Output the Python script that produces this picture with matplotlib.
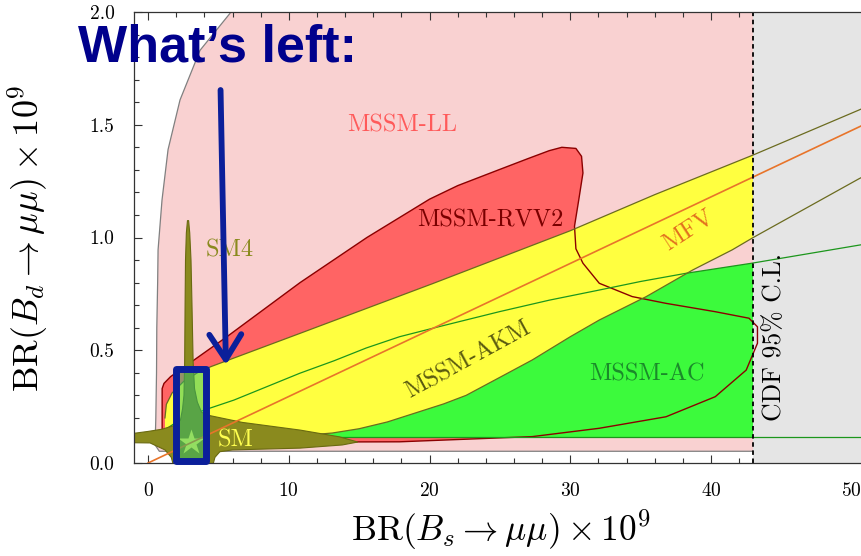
import matplotlib
matplotlib.use("Agg")
import matplotlib.pyplot as plt
from matplotlib.patches import Rectangle
from matplotlib.ticker import MultipleLocator, FormatStrFormatter

plt.rcParams['font.family'] = 'cmr10'
plt.rcParams['mathtext.fontset'] = 'cm'
plt.rcParams['axes.formatter.use_mathtext'] = True

# ---------------- data ----------------
# MSSM-LL region (pink)
ll_x = [6.4, 5.82, 3.69, 2.27, 1.42, 0.99, 0.71, 0.68, 0.62, 0.6, 0.55, 0.5, 0.8, 43.0, 43.0]
ll_y = [2.1, 1.994, 1.83, 1.61, 1.39, 1.166, 0.945, 0.80, 0.60, 0.40, 0.20, 0.08, 0.052, 0.052, 2.1]

# MSSM-RVV2 region (red)
rvv_x = [1.0, 1.0, 1.13, 1.6, 5.6, 10.8, 15.55, 20.0, 22.0, 24.7, 27.0, 28.5, 29.4, 30.4, 30.8, 30.9,
         30.6, 30.3, 30.4, 30.9, 32.06, 34.4, 36.8, 40.3, 42.7, 43.3, 43.3, 42.5, 40.3, 36.8,
         32.06, 27.3, 17.87, 5.0, 1.5, 1.1]
rvv_y = [0.14, 0.33, 0.353, 0.383, 0.56, 0.80, 1.0, 1.17, 1.23, 1.295, 1.35, 1.385, 1.40, 1.395, 1.36, 1.286,
         1.166, 1.05, 0.95, 0.886, 0.797, 0.738, 0.708, 0.671, 0.642, 0.604, 0.531, 0.412, 0.294, 0.205,
         0.154, 0.117, 0.094, 0.092, 0.092, 0.10]

# MSSM-AC region (green): upper boundary and bottom level
ac_top_x = [1.5, 2.5, 4.0, 6.1, 8.5, 10.78, 13.2, 15.5, 17.87, 20.7, 24.96, 28.5, 32.06, 35.0, 38.2,
            42.9, 50.6, 53.0]
ac_top_y = [0.16, 0.20, 0.235, 0.279, 0.34, 0.398, 0.453, 0.51, 0.56, 0.605, 0.671, 0.722, 0.767, 0.805,
            0.841, 0.886, 0.967, 0.99]
ac_bottom = 0.114

# MSSM-AKM region (yellow): upper and lower boundaries
akm_up_x = [1.2, 1.3, 1.7, 2.5, 3.5, 4.45, 10.8, 20.2, 30.0, 36.0, 43.0, 50.5, 53.0]
akm_up_y = [0.20, 0.26, 0.31, 0.36, 0.40, 0.427, 0.575, 0.795, 1.03, 1.19, 1.366, 1.565, 1.633]
akm_lo_x = [1.2, 8.0, 11.0, 13.1, 15.0, 17.0, 19.0, 21.0, 22.6, 25.0, 27.3, 30.0, 32.06, 35.4, 38.7,
            41.5, 43.0, 50.5, 53.0]
akm_lo_y = [0.12, 0.12, 0.122, 0.133, 0.152, 0.182, 0.222, 0.262, 0.30, 0.38, 0.457, 0.56, 0.634, 0.738,
            0.856, 0.945, 1.0, 1.26, 1.34]

# MFV line: BR(Bd) = ratio * BR(Bs)
mfv_x = [0.0, 53.0]
mfv_ratio = 0.0295

# SM / SM4 region (olive)
sm_x = [-1.2, 0.0, 1.0, 1.8, 2.3, 2.45, 2.55, 2.6, 2.63, 2.66, 2.72, 2.8, 2.88, 2.96, 3.05, 3.12,
        3.2, 3.3, 3.5, 3.8, 4.4, 6.7, 10.8, 13.6, 14.9, 13.8, 10.8, 6.0, 5.1, 4.75, 4.6, 1.8, 1.65,
        1.2, 0.14, -1.2]
sm_y = [0.13, 0.14, 0.15, 0.165, 0.19, 0.24, 0.30, 0.45, 0.70, 0.90, 1.02, 1.075, 1.075, 1.02, 0.90, 0.70,
        0.45, 0.33, 0.27, 0.225, 0.21, 0.18, 0.146, 0.116, 0.093, 0.08, 0.066, 0.058, 0.05, 0.025, -0.01,
        -0.01, 0.025, 0.058, 0.089, 0.09]
sm_point = (3.05, 0.093)

cdf_limit = 43.0

# region labels
lab_text = ["MSSM-LL", "MSSM-RVV2", "MFV", "MSSM-AKM", "MSSM-AC", "SM4", "SM"]
lab_x = [18.05, 24.3, 38.4, 22.77, 35.45, 5.83, 6.23]
lab_y = [1.468, 1.047, 1.033, 0.457, 0.364, 0.915, 0.071]
lab_rot = [0, 0, 33, 28.5, 0, 0, 0]
lab_col = ["#ff5a5a", "#7a0000", "#e2701e", "#5a5a10", "#1a8a2a", "#8a8a1e", "#ffff50"]

# annotation (arrow and box)
arrow_from = (5.15, 1.654)
arrow_to = (5.53, 0.435)
box_x = (1.95, 4.15)
box_y = (0.011, 0.417)

# ---------------- figure ----------------
fig = plt.figure(figsize=(8.61, 5.56), dpi=100)
ax = fig.add_axes([134 / 861, 93 / 556, 745.9 / 861, 451 / 556])
ax.set_xlim(-1, 52)
ax.set_ylim(0, 2.0)

pink = "#f9d1d1"
red = "#ff6464"
yellow = "#ffff40"
green = "#3cfa3c"
olive_line = "#6b6b1f"
green_line = "#1c961c"
orange = "#e8742a"
darkred = "#8b0000"

# fills
ax.fill(ll_x, ll_y, color=pink, lw=0, zorder=1)
ax.plot(ll_x[:-1], ll_y[:-1], color="#808080", lw=0.9, zorder=1.1)
ax.fill(rvv_x, rvv_y, color=red, lw=0, zorder=2)
ax.fill(ac_top_x + ac_top_x[::-1], ac_top_y + [ac_bottom] * len(ac_top_x), color=green, lw=0, zorder=3)
ax.fill(akm_up_x + akm_lo_x[::-1], akm_up_y + akm_lo_y[::-1], color=yellow, lw=0, zorder=4)

# excluded region beyond CDF limit
ax.add_patch(Rectangle((cdf_limit, -0.1), 20, 2.3, facecolor="#e5e5e5", edgecolor="none", zorder=5))
ax.axvline(cdf_limit, color="black", lw=1.3, ls=(0, (2.5, 2.0)), zorder=9)

# boundary lines
ax.plot(rvv_x + rvv_x[:1], rvv_y + rvv_y[:1], color=darkred, lw=1.0, zorder=6)
ax.plot(ac_top_x, ac_top_y, color=green_line, lw=0.9, zorder=6)
ax.plot([ac_top_x[0], 53], [ac_bottom, ac_bottom], color=green_line, lw=0.9, zorder=6)
ax.plot(akm_up_x, akm_up_y, color=olive_line, lw=0.9, zorder=6)
ax.plot(akm_lo_x, akm_lo_y, color=olive_line, lw=0.9, zorder=6)

# SM / SM4 region
ax.fill(sm_x, sm_y, facecolor="#8a8a1e", edgecolor="#6a6a10", lw=0.8, zorder=7)
ax.plot(sm_point[0], sm_point[1], marker="*", ms=19, color="#ffff55", mec="none", zorder=7.5)

# MFV line
ax.plot(mfv_x, [mfv_ratio * v for v in mfv_x], color=orange, lw=1.2, zorder=8)

# labels
for t, x, y, r, c in zip(lab_text, lab_x, lab_y, lab_rot, lab_col):
    if r == 0:
        ax.text(x, y, t, color=c, fontsize=17.5, ha="center", va="baseline", zorder=10)
    else:
        ax.text(x, y, t, color=c, fontsize=17.5, ha="center", va="center",
                rotation=r, rotation_mode="anchor", zorder=10)
ax.text(44.5, 0.559, "CDF 95% C.L.", color="black", fontsize=18.5, rotation=90,
        ha="center", va="center", zorder=10)

# axes styling
ax.xaxis.set_major_locator(MultipleLocator(10))
ax.xaxis.set_minor_locator(MultipleLocator(2))
ax.yaxis.set_major_locator(MultipleLocator(0.5))
ax.yaxis.set_minor_locator(MultipleLocator(0.1))
ax.yaxis.set_major_formatter(FormatStrFormatter("%.1f"))
ax.tick_params(which="both", direction="in", top=True, right=True, color="#333333", width=0.8)
ax.tick_params(which="major", length=6, labelsize=14, pad=14)
ax.tick_params(which="minor", length=3.5)
for s in ax.spines.values():
    s.set_color("#333333")
    s.set_linewidth(0.9)
    s.set_zorder(11)

ax.set_xlabel(r"$\mathrm{BR}(B_s \to \mu\mu) \times 10^9$", fontsize=25.5)
ax.xaxis.set_label_coords(0.492, -0.1)
ax.set_ylabel(r"$\mathrm{BR}(B_d \to \mu\mu) \times 10^9$", fontsize=26)
ax.yaxis.set_label_coords(-0.112, 0.497)

# presentation overlay
navy = "#0b1f9a"
ax.annotate("", xy=arrow_to, xytext=arrow_from,
            arrowprops=dict(arrowstyle="->,head_length=1.8,head_width=1.15", color=navy,
                            lw=4.2, shrinkA=0, shrinkB=0),
            annotation_clip=False, zorder=12)
ax.add_patch(Rectangle((box_x[0], box_y[0]), box_x[1] - box_x[0], box_y[1] - box_y[0],
                       facecolor=(0.16, 0.75, 0.43, 0.5), edgecolor=navy, lw=5,
                       joinstyle="round", clip_on=False, zorder=12))
fig.text(78 / 861, (556 - 62) / 556, "What\u2019s left:", family="Liberation Sans",
         fontweight="bold", fontsize=37.5, color="#00008c", ha="left", va="baseline")

fig.savefig("out.png", dpi=100)
